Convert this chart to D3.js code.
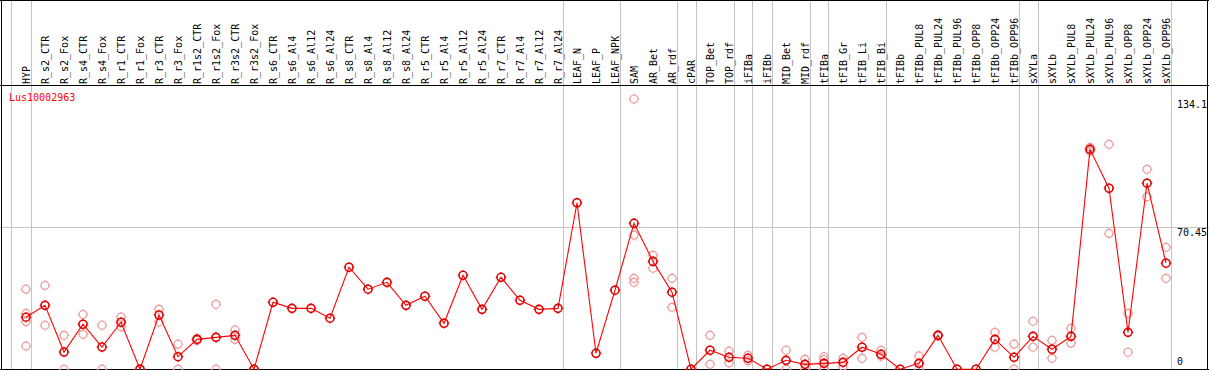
<!DOCTYPE html>
<html>
<head>
<meta charset="utf-8">
<script src="https://cdn.jsdelivr.net/npm/d3@7"></script>
<style>
  html, body { margin: 0; padding: 0; background: #fff; }
  svg { display: block; }
  text { font-family: "DejaVu Sans Mono", monospace; font-size: 10px; }
</style>
</head>
<body>
<svg id="chart" width="1209" height="370"></svg>
<script>
const title = "Lus10002963";
const categories = ["HYP","R_s2_CTR","R_s2_Fox","R_s4_CTR","R_s4_Fox","R_r1_CTR","R_r1_Fox","R_r3_CTR","R_r3_Fox","R_r1s2_CTR","R_r1s2_Fox","R_r3s2_CTR","R_r3s2_Fox","R_s6_CTR","R_s6_Al4","R_s6_Al12","R_s6_Al24","R_s8_CTR","R_s8_Al4","R_s8_Al12","R_s8_Al24","R_r5_CTR","R_r5_Al4","R_r5_Al12","R_r5_Al24","R_r7_CTR","R_r7_Al4","R_r7_Al12","R_r7_Al24","LEAF_N","LEAF_P","LEAF_NPK","SAM","AR_Bet","AR_rdf","cPAR","TOP_Bet","TOP_rdf","iFIBa","iFIBb","MID_Bet","MID_rdf","tFIBa","tFIB_Gr","tFIB_Li","tFIB_Bi","tFIBb","tFIBb_PUL8","tFIBb_PUL24","tFIBb_PUL96","tFIBb_OPP8","tFIBb_OPP24","tFIBb_OPP96","sXYLa","sXYLb","sXYLb_PUL8","sXYLb_PUL24","sXYLb_PUL96","sXYLb_OPP8","sXYLb_OPP24","sXYLb_OPP96"];
const means = [25.8,31.7,8.5,22.3,11.0,23.3,0,26.9,6.2,14.8,15.8,16.8,0,33.2,30.2,30.2,25.3,50.6,39.7,43.1,31.7,36.2,22.8,46.6,29.7,45.6,34.2,29.7,30.2,82.6,7.9,39.2,72.4,53.5,38.2,0,9.4,5.9,5.4,0,4.4,2.4,2.9,3.4,10.9,7.4,0,2.9,16.8,0,0,14.8,5.9,16.3,9.9,16.3,109.1,89.8,18.3,92.3,52.6];
const replicates = [
  [39.7,27.7,23.6,11.5],[41.6,21.8],[16.8,0],[27.2,17.3],[21.8,0],[25.8,21.1],[0,0],[29.7,23.4],[12.4,0],[15.3,14.3],[32.2,0],[19.5,14.8],[0,0],
  [],[],[],[],[],[],[],[],[],[],[],[],[],[],[],[],
  [],[],[],
  [134.1,66.5,45.1,43.1],[56.5,50.1],[45.1,30.7],
  [],[16.8,2.4],[9.0,3.2],[6.9,4.2],[],[9.4,0],[4.9,0],[6.2,4.8,0,0],[5.4,1.4],[15.8,5.4],[9.4,6.4],
  [],[6.6,0],[17.1,16.5],[],[],[18.3,10.9],[12.4,0],
  [23.8,10.9],[14.3,5.4],[20.3,12.9],[110.1,108.1],[111.6,67.4],[27.7,8.4],[99.2,85.6],[60.5,45.1]
];
const groupEnds = [-1,0,28,31,34,35,37,38,39,41,42,45,52,53,60];
const yTickValues = [0, 70.45, 134.1];
const yTickLabels = ["0","70.45","134.1"];
const yGridValues = [70.45];

const W = 1209, H = 370;
const svg = d3.select("#chart");

const x = d3.scaleLinear().domain([0, categories.length - 1]).range([26, 26 + 19 * (categories.length - 1)]);
const y = d3.scaleLinear().domain([0, 134.1]).range([369.2, 99]);

// vertical group separators
svg.append("g").selectAll("line").data(groupEnds).join("line")
  .attr("x1", d => Math.round(x(d) + 4.5) + 0.5).attr("x2", d => Math.round(x(d) + 4.5) + 0.5)
  .attr("y1", 0).attr("y2", H)
  .attr("stroke", "#c4c4c4").attr("stroke-width", 1).attr("shape-rendering", "crispEdges");

// horizontal grid
svg.append("g").selectAll("line").data(yGridValues).join("line")
  .attr("x1", 0).attr("x2", W)
  .attr("y1", d => Math.round(y(d)) + 0.5).attr("y2", d => Math.round(y(d)) + 0.5)
  .attr("stroke", "#c4c4c4").attr("stroke-width", 1).attr("shape-rendering", "crispEdges");

// frame
const frame = svg.append("g").attr("stroke", "#000").attr("stroke-width", 1).attr("shape-rendering", "crispEdges");
frame.append("line").attr("x1", 0).attr("x2", W).attr("y1", 0.5).attr("y2", 0.5);
frame.append("line").attr("x1", 0).attr("x2", W).attr("y1", 85.5).attr("y2", 85.5);
frame.append("line").attr("x1", 0).attr("x2", W).attr("y1", 369.5).attr("y2", 369.5);
frame.append("line").attr("x1", 1.5).attr("x2", 1.5).attr("y1", 0).attr("y2", H);
frame.append("line").attr("x1", W - 1.5).attr("x2", W - 1.5).attr("y1", 0).attr("y2", H);

// category labels (rotated)
svg.append("g").selectAll("text").data(categories).join("text")
  .attr("transform", (d, i) => `translate(${x(i) + 3.5},84) rotate(-90)`)
  .attr("text-anchor", "start")
  .attr("fill", "#000")
  .text(d => d);

// title
svg.append("text").attr("x", 9).attr("y", 101).attr("fill", "#ff0000").text(title);

// y tick labels on the right
svg.append("g").selectAll("text").data(yTickValues).join("text")
  .attr("x", 1177)
  .attr("y", (d, i) => d === 0 ? y(d) - 4 : y(d) + 9)
  .attr("fill", "#000")
  .text((d, i) => yTickLabels[i]);

// marker: circle with small cardinal nubs
function marker(g, r, sw) {
  g.append("circle").attr("r", r).attr("fill", "none").attr("stroke-width", sw);
  g.append("path").attr("stroke-width", 1)
    .attr("d", `M0,${-r}V${-r-1.3}M0,${r}V${r+1.3}M${-r},0H${-r-1.3}M${r},0H${r+1.3}`);
}

// replicates
const repPts = [];
replicates.forEach((arr, i) => arr.forEach(v => repPts.push({i, v})));
svg.append("g").selectAll("g").data(repPts).join("g")
  .attr("transform", d => `translate(${x(d.i)},${y(d.v)})`)
  .attr("stroke", "#ee9c9c")
  .each(function() { marker(d3.select(this), 4, 1.2); });

// mean line
const line = d3.line().x((d, i) => x(i)).y(d => y(d));
svg.append("path").datum(means).attr("d", line)
  .attr("fill", "none").attr("stroke", "#ff0000").attr("stroke-width", 1.1);

// mean markers
svg.append("g").selectAll("g").data(means).join("g")
  .attr("transform", (d, i) => `translate(${x(i)},${y(d)})`)
  .attr("stroke", "#e00000")
  .each(function() { marker(d3.select(this), 4, 1.6); });
</script>
</body>
</html>
